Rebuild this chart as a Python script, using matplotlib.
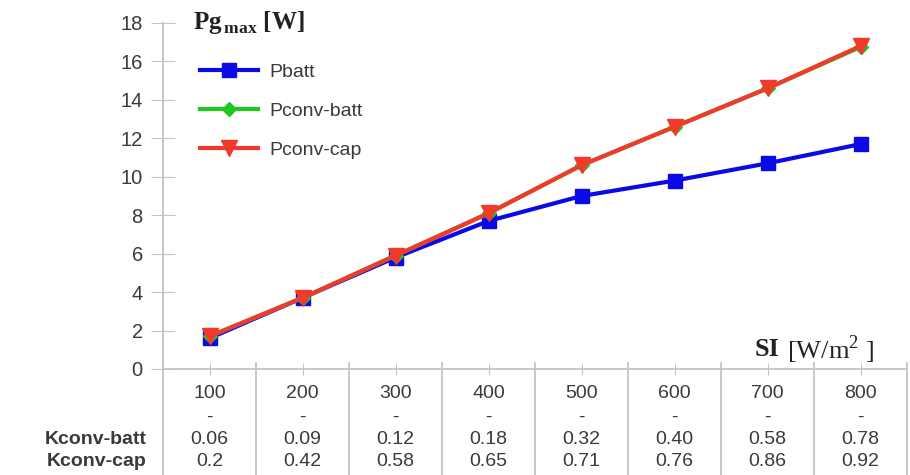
import matplotlib.pyplot as plt
import matplotlib.transforms as mtransforms

si = [100, 200, 300, 400, 500, 600, 700, 800]
k_conv_batt = ['0.06', '0.09', '0.12', '0.18', '0.32', '0.40', '0.58', '0.78']
k_conv_cap = ['0.2', '0.42', '0.58', '0.65', '0.71', '0.76', '0.86', '0.92']
p_batt = [1.6, 3.7, 5.8, 7.7, 9.0, 9.8, 10.7, 11.7]
p_conv_batt = [1.7, 3.7, 5.9, 8.1, 10.6, 12.6, 14.6, 16.75]
p_conv_cap = [1.7, 3.7, 5.9, 8.1, 10.6, 12.6, 14.6, 16.8]

plt.rcParams['font.family'] = ['Liberation Sans', 'DejaVu Sans']
grey = '#c4c4c4'
txt = '#3a3a3a'

fig = plt.figure(figsize=(9.1, 4.75), dpi=100)
ax = fig.add_axes([163/910, 1-369/475, (907-163)/910, (369-23)/475])

x = list(range(1, len(si)+1))
ax.plot(x, p_batt, color='#0a0ae6', lw=3, marker='s', ms=10.5, label='Pbatt')
ax.plot(x, p_conv_batt, color='#1ec81e', lw=3, marker='D', ms=7, label='Pconv-batt')
ax.plot(x, p_conv_cap, color='#f23a2c', lw=3, marker='v', ms=11, label='Pconv-cap')

ax.set_xlim(0.5, len(si)+0.5)
ax.set_ylim(0, 18)
ax.set_yticks(range(0, 19, 2))
ax.set_xticks(x)
ax.set_xticklabels([])
ax.tick_params(axis='y', direction='inout', length=17, color=grey, labelsize=14.5, labelcolor=txt, pad=6)
ax.tick_params(axis='x', direction='inout', length=9, color=grey)
for s in ['top', 'right']:
    ax.spines[s].set_visible(False)
ax.spines['left'].set_color(grey)
ax.spines['bottom'].set_color(grey)
ax.spines['left'].set_linewidth(1.3)
ax.spines['bottom'].set_linewidth(1.3)

# table below the axis
tr = mtransforms.blended_transform_factory(ax.transData, fig.transFigure)
for i in range(len(si)+1):
    ax.plot([i+0.5, i+0.5], [1-363/475, 0], transform=tr, color=grey, lw=1.3, clip_on=False)
rows = [1-393/475, 1-417/475, 1-440/475, 1-462/475]
for xi, s, kb, kc in zip(x, si, k_conv_batt, k_conv_cap):
    for yy, t in zip(rows, [str(s), '-', kb, kc]):
        ax.text(xi, yy, t, transform=tr, ha='center', va='center', fontsize=14, color=txt)
fig.text(147/910, rows[2], 'Kconv-batt', ha='right', va='center', fontsize=14, color=txt, fontweight='bold')
fig.text(147/910, rows[3], 'Kconv-cap', ha='right', va='center', fontsize=14, color=txt, fontweight='bold')

fig.text(193/910, 1-22/475, r'Pg$_{\,\mathregular{max}}$ [W]', fontfamily='Liberation Serif', fontweight='bold',
         fontsize=18, color='#222222', va='center', ha='left')
fig.text(755/910, 1-350/475, 'SI', fontfamily='Liberation Serif', fontweight='bold',
         fontsize=19, color='#222222', va='center', ha='left')
fig.text(787/910, 1-350/475, r'[W/m$^{\mathregular{2}}$ ]', fontfamily='Liberation Serif',
         fontsize=19, color='#222222', va='center', ha='left')

ax.legend(loc='upper left', bbox_to_anchor=(0.026, 0.935), frameon=False, fontsize=14,
          handlelength=3.0, handletextpad=0.6, labelspacing=1.1, labelcolor=txt)

fig.savefig('out.png', dpi=100)
